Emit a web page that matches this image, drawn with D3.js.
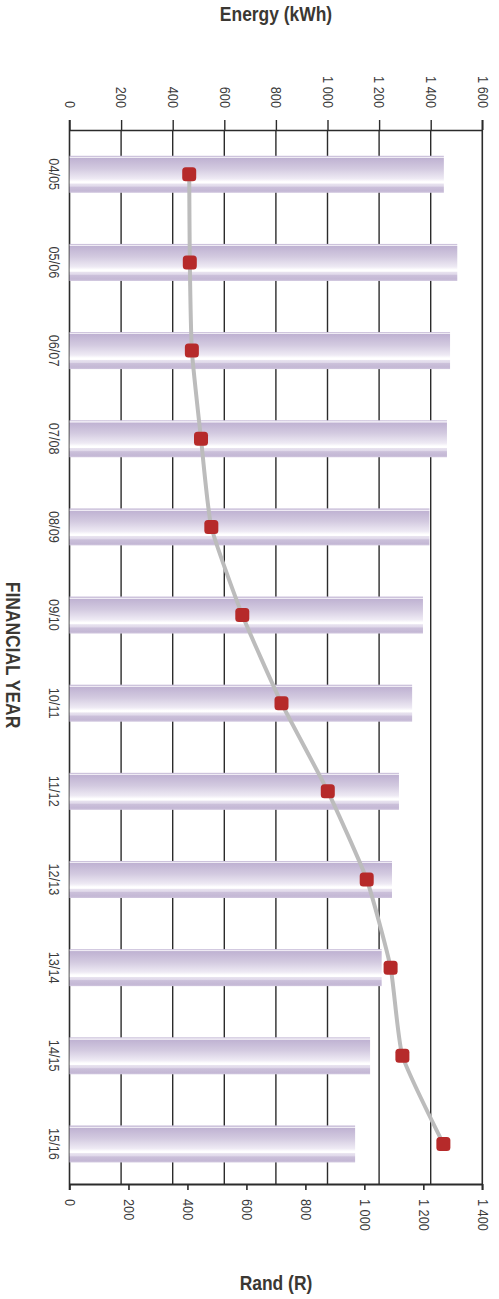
<!DOCTYPE html>
<html>
<head>
<meta charset="utf-8">
<script src="https://cdn.jsdelivr.net/npm/d3@7"></script>
<style>
  html, body { margin: 0; padding: 0; background: #fff; }
  svg { display: block; }
  text { font-family: "Liberation Sans Narrow", "Arial Narrow", "Liberation Sans", Arial, sans-serif; }
</style>
</head>
<body>
<svg id="chart" width="499" height="1299"></svg>
<script>
// Financial years (one band each)
const years = ["04/05", "05/06", "06/07", "07/08", "08/09", "09/10",
               "10/11", "11/12", "12/13", "13/14", "14/15", "15/16"];
// Energy used per year (kWh) – drawn as bars on the top axis
const energyKWh = [1451, 1503, 1475, 1463, 1395, 1370, 1328, 1277, 1250, 1210, 1165, 1107];
// Cost per year (Rand) – drawn as a line on the bottom axis
const costRand = [406, 408, 415, 446, 481, 586, 719, 876, 1008, 1089, 1129, 1268];

const energyTicks = [0, 200, 400, 600, 800, 1000, 1200, 1400, 1600];
const energyTickLabels = ["0", "200", "400", "600", "800", "1 000", "1 200", "1 400", "1 600"];
const randTicks = [0, 200, 400, 600, 800, 1000, 1200, 1400];
const randTickLabels = ["0", "200", "400", "600", "800", "1 000", "1 200", "1 400"];

const svg = d3.select("#chart");
const plotLeft = 69.5, plotRight = 482.3, plotTop = 130, plotBottom = 1184;
const axisColor = "#2b2b2b";
const labelColor = "#3a3a3a";
const titleColor = "#3b3833";
const squeeze = 0.85;   // condensed lettering

const xEnergy = d3.scaleLinear().domain([0, 1600]).range([plotLeft, plotRight]);
const xRand = d3.scaleLinear().domain([0, 1400]).range([plotLeft, plotRight]);
const y = d3.scaleBand().domain(years).range([130.2, 1188])
  .paddingInner(0.58).paddingOuter(0.29);

// Cylinder-like shading for the bars
const defs = svg.append("defs");
const grad = defs.append("linearGradient").attr("id", "barShade")
  .attr("x1", 0).attr("y1", 0).attr("x2", 0).attr("y2", 1);
[
  [0, "#cdc3dc"], [0.03, "#cdc3dc"], [0.035, "#efebf4"], [0.06, "#efebf4"],
  [0.065, "#bfb2d2"], [0.35, "#d3cae0"], [0.62, "#eeeaf4"], [0.70, "#ffffff"],
  [0.74, "#ffffff"], [0.76, "#e8e3ef"], [0.82, "#e0d9ea"], [0.85, "#cbc0da"],
  [0.95, "#c4b8d5"], [1, "#d0c6de"]
].forEach(([o, c]) => grad.append("stop").attr("offset", o).attr("stop-color", c));

// Vertical gridlines at the energy ticks
svg.append("g").selectAll("line")
  .data(energyTicks.slice(1, -1))
  .join("line")
  .attr("x1", d => xEnergy(d)).attr("x2", d => xEnergy(d))
  .attr("y1", plotTop).attr("y2", plotBottom)
  .attr("stroke", axisColor).attr("stroke-width", 1.4);

// Left and right frame lines
svg.append("g").selectAll("line")
  .data([0, 1600])
  .join("line")
  .attr("x1", d => xEnergy(d)).attr("x2", d => xEnergy(d))
  .attr("y1", plotTop - 10).attr("y2", plotBottom + 6)
  .attr("stroke", axisColor).attr("stroke-width", 1.6);

// Top axis: energy
const topAxis = svg.append("g")
  .attr("transform", `translate(0,${plotTop})`)
  .call(d3.axisTop(xEnergy).tickValues(energyTicks)
    .tickFormat((d, i) => energyTickLabels[i]).tickSize(10).tickSizeOuter(0));
topAxis.select(".domain").attr("stroke", axisColor).attr("stroke-width", 1.6);
topAxis.selectAll(".tick line").attr("stroke", axisColor).attr("stroke-width", 1.4);
topAxis.selectAll(".tick text")
  .attr("transform", `translate(0,-22) rotate(90) scale(${squeeze},1)`)
  .attr("x", 0).attr("y", 0).attr("dy", "0.35em")
  .style("text-anchor", "end")
  .style("font-size", "15px")
  .attr("fill", labelColor);

// Bottom axis: rand
const bottomAxis = svg.append("g")
  .attr("transform", `translate(0,${plotBottom})`)
  .call(d3.axisBottom(xRand).tickValues(randTicks)
    .tickFormat((d, i) => randTickLabels[i]).tickSize(6).tickSizeOuter(0));
bottomAxis.select(".domain").attr("stroke", axisColor).attr("stroke-width", 2);
bottomAxis.selectAll(".tick line").attr("stroke", axisColor).attr("stroke-width", 1.6);
bottomAxis.selectAll(".tick text")
  .attr("transform", `translate(0,15) rotate(90) scale(${squeeze},1)`)
  .attr("x", 0).attr("y", 0).attr("dy", "0.35em")
  .style("text-anchor", "start")
  .style("font-size", "15px")
  .attr("fill", labelColor);

// Category labels along the left
const leftAxis = svg.append("g")
  .attr("transform", `translate(${plotLeft},0)`)
  .call(d3.axisLeft(y).tickSize(0).tickPadding(0));
leftAxis.select(".domain").remove();
leftAxis.selectAll(".tick text")
  .attr("transform", `translate(-15,0) rotate(90) scale(${squeeze},1)`)
  .attr("x", 0).attr("y", 0).attr("dy", "0.35em")
  .style("text-anchor", "middle")
  .style("font-size", "15px")
  .attr("fill", labelColor);

// Bars
svg.append("g").selectAll("rect")
  .data(years)
  .join("rect")
  .attr("x", xEnergy(0))
  .attr("y", d => y(d))
  .attr("width", (d, i) => xEnergy(energyKWh[i]) - xEnergy(0))
  .attr("height", y.bandwidth())
  .attr("fill", "url(#barShade)");

// Cost line
const pts = years.map((d, i) => [xRand(costRand[i]), y(d) + y.bandwidth() / 2]);
svg.append("path")
  .datum(pts)
  .attr("d", d3.line().curve(d3.curveCardinal.tension(0.5)))
  .attr("fill", "none")
  .attr("stroke", "#bcbcbc")
  .attr("stroke-width", 4);

// Markers
svg.append("g").selectAll("rect")
  .data(pts)
  .join("rect")
  .attr("x", d => d[0] - 7).attr("y", d => d[1] - 7)
  .attr("width", 14).attr("height", 14)
  .attr("rx", 3.5)
  .attr("fill", "#b62a2a");

// Titles
svg.append("text")
  .attr("transform", `translate(276,21) scale(${squeeze},1)`)
  .attr("text-anchor", "middle")
  .style("font-size", "20.5px").style("font-weight", "bold")
  .attr("fill", titleColor)
  .text("Energy (kWh)");

svg.append("text")
  .attr("transform", `translate(276,1290) scale(${squeeze},1)`)
  .attr("text-anchor", "middle")
  .style("font-size", "20.5px").style("font-weight", "bold")
  .attr("fill", titleColor)
  .text("Rand (R)");

svg.append("text")
  .attr("transform", `translate(13,655) rotate(90) scale(${squeeze},1)`)
  .attr("dy", "0.35em")
  .attr("text-anchor", "middle")
  .style("font-size", "20.5px").style("font-weight", "bold")
  .attr("fill", titleColor)
  .text("FINANCIAL YEAR");
</script>
</body>
</html>
